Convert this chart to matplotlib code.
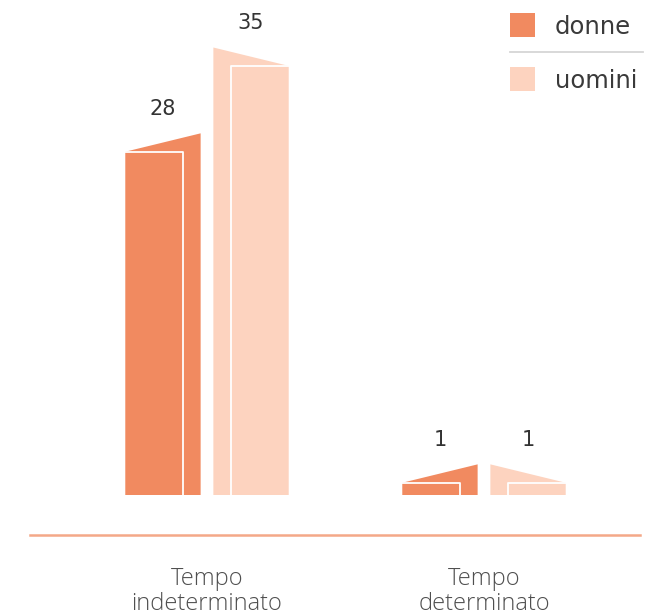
import matplotlib.pyplot as plt
from matplotlib.patches import Polygon, Rectangle

categorie = ['Tempo\nindeterminato', 'Tempo\ndeterminato']
donne = [28, 1]
uomini = [35, 1]
serie = ['donne', 'uomini']
colori = ['#F18A60', '#FDD3BF']

W, H = 665, 615
fig = plt.figure(figsize=(W / 100, H / 100), dpi=100)
ax = fig.add_axes([0, 0, 1, 1])

# pixel layout -> data limits (group centres at x=0 and x=1, 277 px apart)
px_x = 277.0
px_y = 12.26
x0_px, base_px = 207, 495
ax.set_xlim(-x0_px / px_x, (W - x0_px) / px_x)
ax.set_ylim(-(H - base_px) / px_y, base_px / px_y)
ax.axis('off')

off = 0.159
bw = 0.272
slant = 1.5
inner = 0.77

for i, cat in enumerate(categorie):
    for k, vals in enumerate([donne, uomini]):
        v = vals[i]
        xc = i + (-off if k == 0 else off)
        a, b = xc - bw / 2, xc + bw / 2
        if k == 0:
            pts = [(a, 0), (a, v), (b, v + slant), (b, 0)]
            xi = a + bw * inner
            ax.plot([a, xi, xi], [v, v, 0], color='white', lw=1.3, zorder=3)
        else:
            pts = [(a, 0), (a, v + slant), (b, v), (b, 0)]
            xi = b - bw * inner
            ax.plot([b, xi, xi], [v, v, 0], color='white', lw=1.3, zorder=3)
        ax.add_patch(Polygon(pts, closed=True, facecolor=colori[k], edgecolor='none', zorder=2))
        ax.text(xc, v + slant + 2.0, str(v), ha='center', va='center',
                fontsize=15, color='#333333')
    ax.text(i, -5.9, cat, ha='center', va='top', fontsize=17, color='#4f4f4f',
            family='Open Sans', fontweight='light', linespacing=1.05)

# asse
ax.plot([-177 / px_x, 433 / px_x], [-40 / px_y, -40 / px_y], color='#F4A888', lw=1.8)

# legenda
for k, nome in enumerate(serie):
    y_top = 13 + k * 54
    fig.add_artist(Rectangle((510 / W, 1 - (y_top + 24) / H), 25 / W, 24 / H,
                             transform=fig.transFigure, facecolor=colori[k], edgecolor='none'))
    fig.text(555 / W, 1 - (y_top + 14) / H, nome, ha='left', va='center',
             fontsize=17.5, color='#3a3a3a')
fig.add_artist(plt.Line2D([510 / W, 643 / W], [1 - 52 / H, 1 - 52 / H],
                          transform=fig.transFigure, color='#d6d6d6', lw=1.3))

fig.savefig('out.png', dpi=100)
